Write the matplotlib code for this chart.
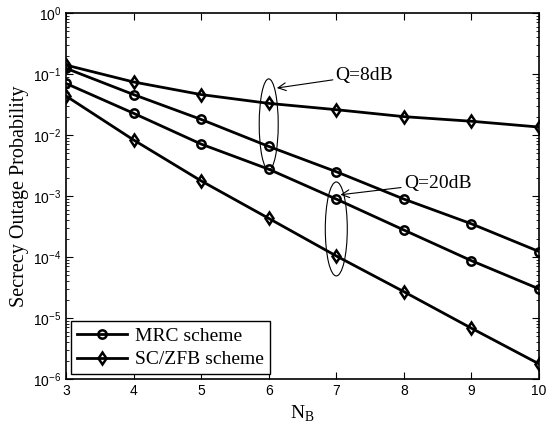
import numpy as np
import matplotlib.pyplot as plt
from matplotlib.patches import Ellipse

# datos
nb = [3, 4, 5, 6, 7, 8, 9, 10]
mrc_q8 = [0.124, 0.046, 0.018, 0.0065, 0.0025, 0.00089, 3.5e-4, 1.23e-4]
zfb_q8 = [0.14, 0.074, 0.046, 0.033, 0.026, 0.020, 0.0168, 0.0135]
mrc_q20 = [0.070, 0.0227, 0.0071, 0.00275, 0.00089, 2.77e-4, 8.7e-5, 3.0e-5]
zfb_q20 = [0.0436, 0.0083, 0.00177, 4.3e-4, 1.04e-4, 2.7e-5, 6.8e-6, 1.77e-6]

serif = ['Liberation Serif', 'DejaVu Serif']
sans = ['Liberation Sans', 'DejaVu Sans']

fig = plt.figure(figsize=(5.48, 4.32), dpi=100)
ax = fig.add_axes([66/548, 1 - 379/432, (539-66)/548, (379-13)/432])

estilo = dict(color='k', lw=2, markersize=6, markeredgewidth=1.8, markerfacecolor='none')
ax.semilogy(nb, mrc_q8, marker='o', label='MRC scheme', **estilo)
ax.semilogy(nb, zfb_q8, marker='d', label='SC/ZFB scheme', **estilo)
ax.semilogy(nb, mrc_q20, marker='o', **estilo)
ax.semilogy(nb, zfb_q20, marker='d', **estilo)

ax.set_xlim(3, 10)
ax.set_ylim(1e-6, 1)
ax.set_xticks(nb)
ax.set_yticks([1e-6, 1e-5, 1e-4, 1e-3, 1e-2, 1e-1, 1e0])
ax.tick_params(which='both', direction='in', top=True, right=True, labelsize=10)
ax.tick_params(which='major', length=5)
ax.tick_params(which='minor', length=2.5)
for lab in ax.get_xticklabels() + ax.get_yticklabels():
    lab.set_family(sans)

ax.set_xlabel('N$_\\mathregular{B}$', family=serif, fontsize=14)
ax.set_ylabel('Secrecy Outage Probability', family=serif, fontsize=14.5, labelpad=3)


def elipse(x, w, y_top, y_bot):
    # elipse en pixeles, centrada en la columna x
    x0, y0 = ax.transData.transform((x, y_top))
    x1, y1 = ax.transData.transform((x, y_bot))
    ell = Ellipse(((x0 + x1)/2, (y0 + y1)/2), w, abs(y0 - y1), fill=False, lw=0.8,
                  transform=None)
    fig.patches.append(ell)


elipse(6, 19, 10**-1.08, 10**-2.57)
elipse(7, 22, 10**-2.77, 10**-4.31)

ax.annotate('Q=8dB', xy=(6.12, 10**-1.23), xytext=(6.99, 10**-1.02),
            family=serif, fontsize=14, va='center',
            arrowprops=dict(arrowstyle='->', color='k', lw=0.8, shrinkA=0, shrinkB=0))
ax.annotate('Q=20dB', xy=(7.06, 10**-2.98), xytext=(8.0, 10**-2.79),
            family=serif, fontsize=14, va='center',
            arrowprops=dict(arrowstyle='->', color='k', lw=0.8, shrinkA=0, shrinkB=0))

leg = ax.legend(loc='lower left', prop={'family': serif, 'size': 14}, handlelength=2.6,
                fancybox=False, edgecolor='k', framealpha=1, borderaxespad=0.25,
                labelspacing=0.3, handletextpad=0.4, borderpad=0.3)
leg.get_frame().set_linewidth(1)

for s in ax.spines.values():
    s.set_linewidth(1.2)

fig.savefig('out.png', dpi=100)
